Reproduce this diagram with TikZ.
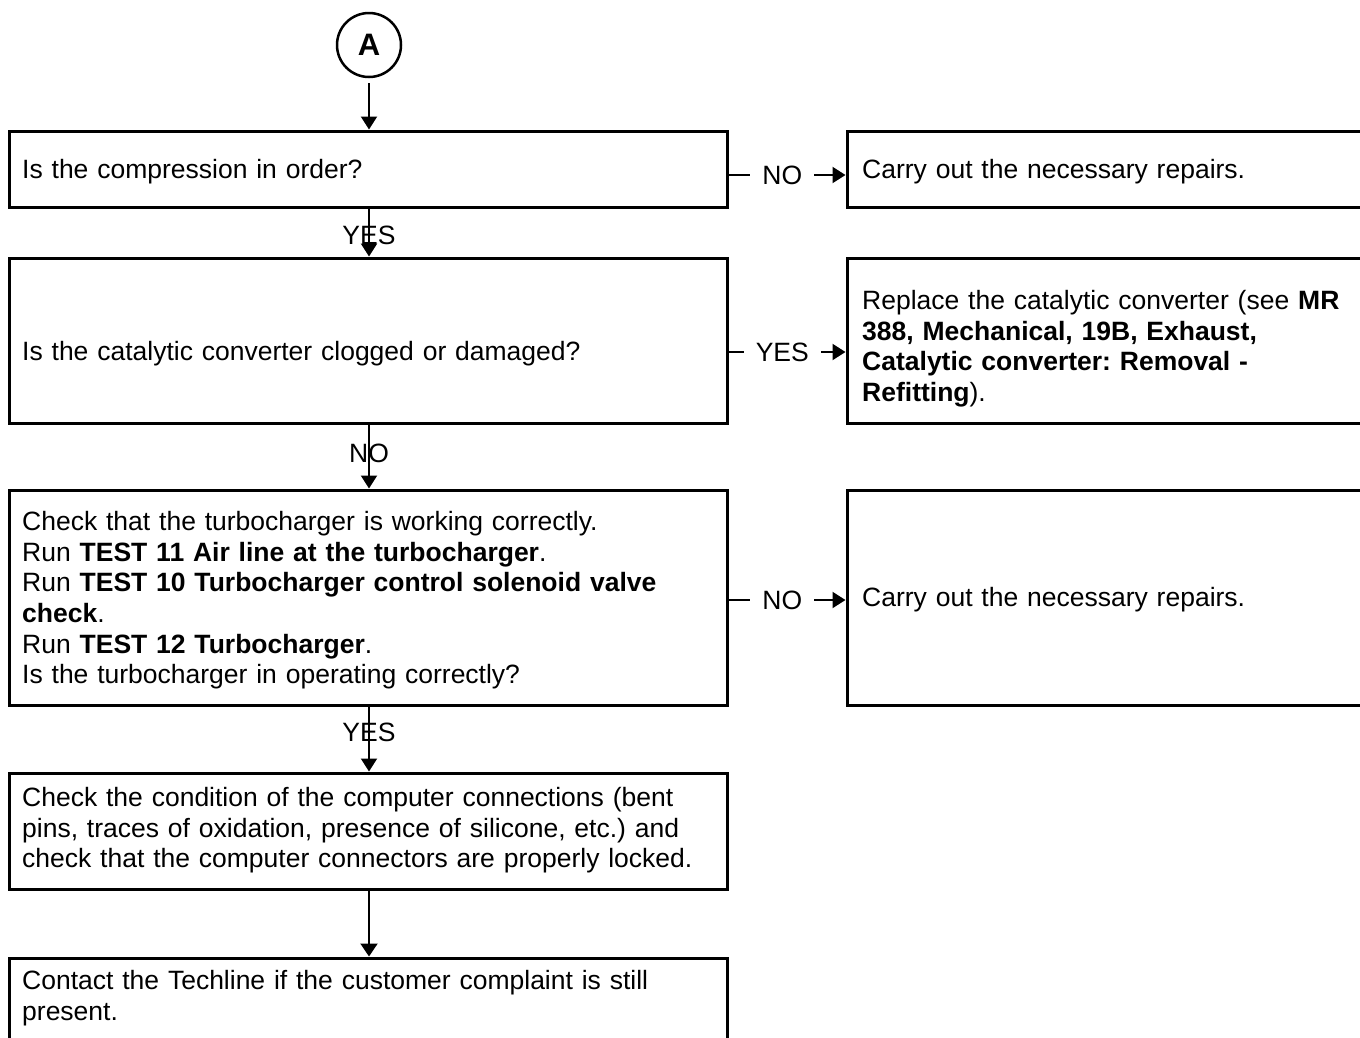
\documentclass[tikz,border=0pt]{standalone}
\usepackage{fontspec}
\setmainfont{Liberation Sans}
\usetikzlibrary{arrows.meta}
\newcommand\fsz{\fontsize{26.5}{30.6}\selectfont\frenchspacing}
\begin{document}
\begin{tikzpicture}[x=1pt,y=-1pt,
  box/.style={draw,line width=3pt,inner sep=0,rectangle},
  lbox/.style={box,minimum width=718pt},
  rbox/.style={box,minimum width=518pt},
  txt/.style={anchor=north west,inner sep=0,align=left,text width=700pt,font=\fsz},
  conn/.style={line width=2pt,-{Triangle[length=13pt,width=16pt]}},
  lbl/.style={font=\fsz,inner sep=0},
  hlbl/.style={font=\fsz,fill=white,inner ysep=2pt,inner xsep=12pt}]
\useasboundingbox (0,0) rectangle (1360,1037);
% start circle
\node[circle,draw,line width=2.5pt,minimum size=64pt,inner sep=0,font=\bfseries\fontsize{31}{32}\selectfont] (A) at (369,45) {A};
% left boxes
\node[lbox,minimum height=76pt] (b1) at (368,169) {};
\node[lbox,minimum height=165pt] (b2) at (368,340.5) {};
\node[lbox,minimum height=215pt] (b3) at (368,597.5) {};
\node[lbox,minimum height=116pt] (b4) at (368,831) {};
\node[lbox,minimum height=142pt] (b5) at (368,1029) {};
% right boxes
\node[rbox,minimum height=76pt] (r1) at (1106,169) {};
\node[rbox,minimum height=165pt] (r2) at (1106,340.5) {};
\node[rbox,minimum height=215pt] (r3) at (1106,597.5) {};
% texts
\node[txt] (t1) at (22,157) {\strut Is the compression in order?};
\node[txt] (t2) at (22,339) {\strut Is the catalytic converter clogged or damaged?};
\node[txt] (t3) at (22,509) {\strut Check that the turbocharger is working correctly.\\
Run \textbf{TEST 11 Air line at the turbocharger}.\\
Run \textbf{TEST 10 Turbocharger control solenoid valve}\\
\textbf{check}.\\
Run \textbf{TEST 12 Turbocharger}.\\
Is the turbocharger in operating correctly?};
\node[txt] (t4) at (22,785) {\strut Check the condition of the computer connections (bent\\
pins, traces of oxidation, presence of silicone, etc.) and\\
check that the computer connectors are properly locked.};
\node[txt] (t5) at (22,968) {\strut Contact the Techline if the customer complaint is still\\
present.};
\node[txt,text width=490pt] (u1) at (862,157) {\strut Carry out the necessary repairs.};
\node[txt,text width=490pt] (u2) at (862,288) {\strut Replace the catalytic converter (see \textbf{MR}\\
\textbf{388, Mechanical, 19B, Exhaust,}\\
\textbf{Catalytic converter: Removal -}\\
\textbf{Refitting}).};
\node[txt,text width=490pt] (u3) at (862,585) {\strut Carry out the necessary repairs.};
% connectors
\draw[conn,shorten <=5pt] (A) -- (b1.north -| A);
\draw[conn] ([yshift=-6pt]b1.east) -- node[hlbl,pos=0.46]{NO} ([yshift=-6pt]r1.west);
\draw[conn] (b1.south -| A) -- node[lbl,pos=0.55]{YES} (b2.north -| A);
\draw[conn] ([yshift=-11.5pt]b2.east) -- node[hlbl,pos=0.46]{YES} ([yshift=-11.5pt]r2.west);
\draw[conn] (b2.south -| A) -- node[lbl,pos=0.45]{NO} (b3.north -| A);
\draw[conn] ([yshift=-2.5pt]b3.east) -- node[hlbl,pos=0.46]{NO} ([yshift=-2.5pt]r3.west);
\draw[conn] (b3.south -| A) -- node[lbl,pos=0.4]{YES} (b4.north -| A);
\draw[line width=2pt,-{Triangle[length=13pt,width=17pt]}] (b4.south -| A) -- (b5.north -| A);
\end{tikzpicture}
\end{document}
